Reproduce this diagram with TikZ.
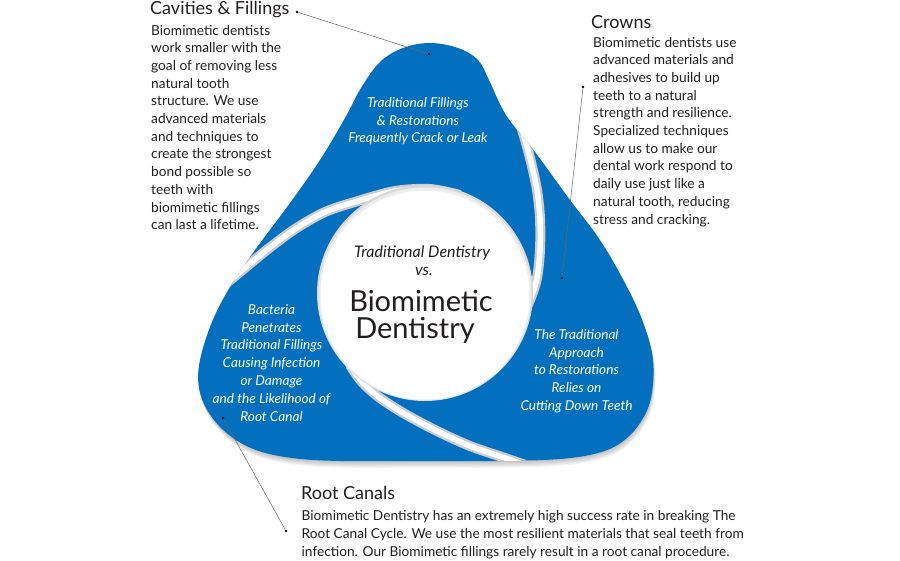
\documentclass[tikz,border=0pt]{standalone}
\usepackage{fontspec}
\setmainfont{Lato}
\usetikzlibrary{positioning}
\definecolor{bladeblue}{RGB}{2,112,190}
\definecolor{ink}{RGB}{35,31,32}
\newcommand{\bladeoutline}{plot[smooth cycle,tension=0.6] coordinates{(430,43) (458,48) (478,60) (489,80) (506,115) (535,152) (570,200) (600,240) (625,283) (643,322) (653,360) (651,398) (640,423) (622,442) (598,453) (560,459) (500,461) (420,461) (340,461) (292,458) (256,450) (229,435) (209,413) (199,388) (200,360) (212,322) (230,287) (255,250) (290,203) (320,160) (345,118) (361,88) (380,62) (403,48)}}

\begin{document}
\begin{tikzpicture}[x=1pt,y=-1pt,
  head/.style={anchor=base west,inner sep=0,text=ink,font=\fontsize{18}{21}\selectfont},
  body/.style={anchor=base west,inner sep=0,text=ink,align=left,font=\fontsize{13.7}{17.7}\selectfont},
  inblade/.style={anchor=base,inner sep=0,text=white,align=center,font=\fontsize{13.6}{17.8}\selectfont\itshape},
  centre/.style={anchor=base,inner sep=0,text=ink},
  gap/.style={white,line width=5.5pt},
  gapshade/.style={gray!40,line width=10pt},
  dot/.style={circle,fill=black,inner sep=0,minimum size=2.6pt},
  leader/.style={black!60,line width=0.5pt}]
\useasboundingbox (0,0) rectangle (900,560);
\foreach \s in {1,...,6}{\fill[black,opacity=0.045,shift={(0.3*\s,1.1*\s)}] \bladeoutline;}
\fill[bladeblue] \bladeoutline;
\begin{scope}
\clip \bladeoutline;
\draw[gapshade] plot[smooth] coordinates{(212,295) (240,272) (268,249) (295,229) (325,212) (358,201) (395,191) (430,189) (460,195)};
\draw[gap] plot[smooth] coordinates{(212,295) (240,272) (268,249) (295,229) (325,212) (358,201) (395,191) (430,189) (460,195)};
\draw[gapshade] plot[smooth] coordinates{(516,110) (524,136) (531,162) (537,190) (540,218) (540,250) (537,278) (530,300) (518,325)};
\draw[gap] plot[smooth] coordinates{(516,110) (524,136) (531,162) (537,190) (540,218) (540,250) (537,278) (530,300) (518,325)};
\draw[gapshade] plot[smooth] coordinates{(540,470) (505,458) (470,446) (437,431) (405,414) (380,398) (362,382) (350,365)};
\draw[gap] plot[smooth] coordinates{(540,470) (505,458) (470,446) (437,431) (405,414) (380,398) (362,382) (350,365)};
\end{scope}
\fill[gray!30] (425,293) circle[radius=108]; \fill[gray!14] (425,294) circle[radius=106.5]; \fill[white] (425,295) circle[radius=104.5];
\node[inblade] (topnote) at (418,142.9) {Traditional Fillings\\\& Restorations\\Frequently Crack or Leak};
\node[inblade] (leftnote) at (271.5,421.1) {Bacteria\\Penetrates\\Traditional Fillings\\Causing Infection\\or Damage\\and the Likelihood of\\Root Canal};
\node[inblade] (rightnote) at (576.5,410.5) {The Traditional\\Approach\\to Restorations\\Relies on\\Cutting Down Teeth};
\node[centre,font=\fontsize{16}{18}\selectfont\itshape] (tradtitle) at (422,257) {Traditional Dentistry};
\node[centre,font=\fontsize{16}{18}\selectfont\itshape] (vstitle) at (424,275) {vs.};
\node[centre,font=\fontsize{29}{31}\selectfont] (biotitle) at (421,311.7) {Biomimetic};
\node[centre,font=\fontsize{29}{31}\selectfont] (denttitle) at (415,338.3) {Dentistry};
\node[head] (cavhead) at (150,14) {Cavities \& Fillings};
\node[body] (cavbody) at (151,229.7) {Biomimetic dentists\\work smaller with the\\goal of removing less\\natural tooth\\structure. We use\\advanced materials\\and techniques to\\create the strongest\\bond possible so\\teeth with\\biomimetic fillings\\can last a lifetime.};
\node[head] (crownhead) at (591,28.3) {Crowns};
\node[body] (crownbody) at (593,224) {Biomimetic dentists use\\advanced materials and\\adhesives to build up\\teeth to a natural\\strength and resilience.\\Specialized techniques\\allow us to make our\\dental work respond to\\daily use just like a\\natural tooth, reducing\\stress and cracking.};
\node[head] (roothead) at (301,499) {Root Canals};
\node[body,font=\fontsize{13.7}{18}\selectfont] (rootbody) at (301.5,556) {Biomimetic Dentistry has an extremely high success rate in breaking The\\Root Canal Cycle.  We use the most resilient materials that seal teeth from\\infection.  Our Biomimetic fillings rarely result in a root canal procedure.};
\node[dot] (cavdot) at (297,12) {}; \node[dot] (topdot) at (429,54) {}; \draw[leader] (cavdot) -- (topdot);
\node[dot] (crowndot) at (583,87) {}; \node[dot] (rightdot) at (562,278) {}; \draw[leader] (crowndot) -- (rightdot);
\node[dot] (leftdot) at (223,418) {}; \node[dot] (rootdot) at (286,531) {}; \draw[leader] (leftdot) -- (rootdot);
\end{tikzpicture}
\end{document}
